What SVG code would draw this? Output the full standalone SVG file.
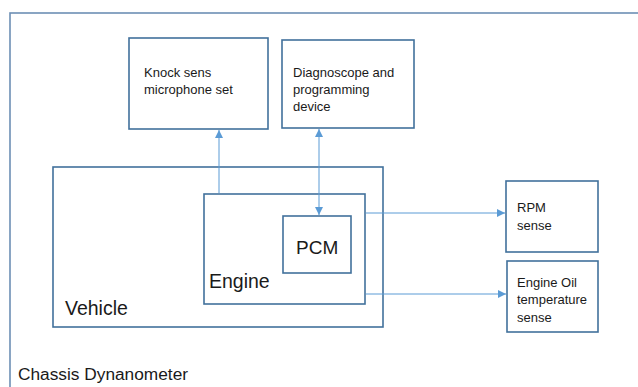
<svg xmlns="http://www.w3.org/2000/svg" width="638" height="387" viewBox="0 0 638 387">
<style>
.box{fill:#fff;stroke:#41719c;stroke-width:1.6}
.outer{fill:#fff;stroke:#6d8fb5;stroke-width:1.6}
.t{font-family:"Liberation Sans",Arial,sans-serif;fill:#1a1a1a}
.s{font-size:13px}
.l{font-size:19.5px}
.c{fill:none;stroke:#5b9bd5;stroke-width:1}
</style>
<defs>
<marker id="ah" viewBox="0 0 10 10" refX="10" refY="5" markerWidth="8" markerHeight="8" markerUnits="userSpaceOnUse" orient="auto-start-reverse">
<path d="M0,0 L10,5 L0,10 z" fill="#5b9bd5"/>
</marker>
</defs>
<g id="chassis">
<rect class="outer" x="10" y="13" width="700" height="420"/>
<text class="t" x="18" y="380" font-size="17.3px">Chassis Dynanometer</text>
</g>
<g id="knock">
<rect class="box" x="129" y="38" width="139" height="91"/>
<text class="t s" x="144" y="77">Knock sens</text>
<text class="t s" x="144" y="94">microphone set</text>
</g>
<g id="diag">
<rect class="box" x="282" y="40" width="132" height="88"/>
<text class="t s" x="293" y="77">Diagnoscope and</text>
<text class="t s" x="293" y="94">programming</text>
<text class="t s" x="293" y="111">device</text>
</g>
<g id="vehicle">
<rect class="box" x="53" y="167" width="330" height="160"/>
<text class="t l" x="65" y="315">Vehicle</text>
</g>
<g id="engine">
<rect class="box" x="204" y="194" width="161" height="110"/>
<text class="t l" x="209" y="288">Engine</text>
</g>
<g id="pcm">
<rect class="box" x="283" y="216" width="68" height="57"/>
<text class="t" x="296" y="254" font-size="19px">PCM</text>
</g>
<g id="rpm">
<rect class="box" x="506" y="181" width="92" height="71"/>
<text class="t s" x="517" y="212">RPM</text>
<text class="t s" x="517" y="230">sense</text>
</g>
<g id="oil">
<rect class="box" x="507" y="261" width="91" height="71"/>
<text class="t s" x="517" y="287">Engine Oil</text>
<text class="t s" x="517" y="304">temperature</text>
<text class="t s" x="517" y="322">sense</text>
</g>
<g id="connectors">
<line class="c" x1="219" y1="193" x2="219" y2="130" marker-end="url(#ah)"/>
<line class="c" x1="319" y1="129" x2="319" y2="215" marker-start="url(#ah)" marker-end="url(#ah)"/>
<line class="c" x1="366" y1="213" x2="505" y2="213" marker-end="url(#ah)"/>
<line class="c" x1="366" y1="294" x2="506" y2="294" marker-end="url(#ah)"/>
</g>
</svg>
